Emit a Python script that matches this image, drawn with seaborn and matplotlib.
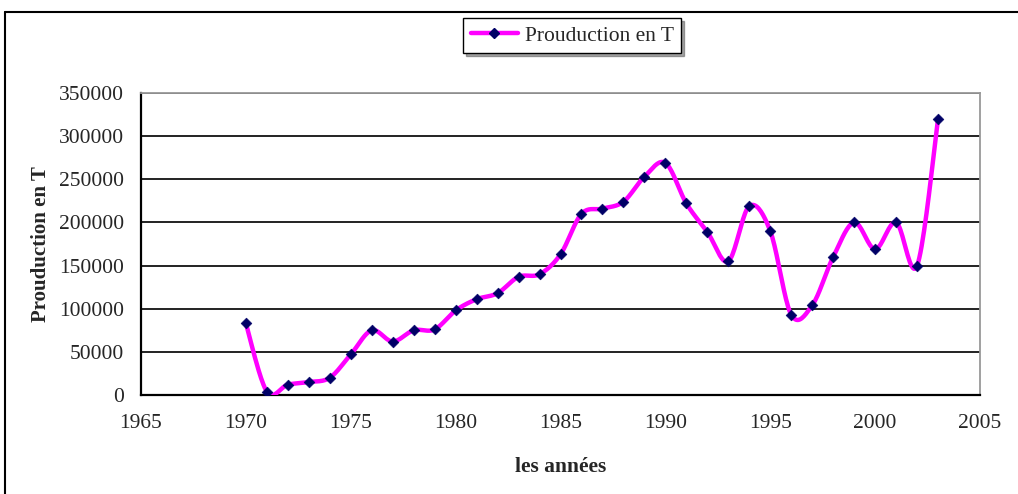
import numpy as np
import pandas as pd
import matplotlib
matplotlib.use("Agg")
import matplotlib.pyplot as plt
from matplotlib.lines import Line2D
import seaborn as sns

years = list(range(1970, 2004))
production = [83000, 4000, 12000, 15000, 20000, 47000, 75000, 62000, 75000, 76000,
              98000, 111000, 118000, 137000, 140000, 163000, 210000, 216000, 224000, 253000,
              269000, 222000, 189000, 155000, 219000, 190000, 93000, 104000, 160000, 200000,
              169000, 200000, 150000, 320000]
y_ticks = [0, 50000, 100000, 150000, 200000, 250000, 300000, 350000]
x_ticks = [1965, 1970, 1975, 1980, 1985, 1990, 1995, 2000, 2005]

df = pd.DataFrame({"annee": years, "production": production})


def smooth(x, y, n=20):
    # Catmull-Rom curve through the points, like the spreadsheet "smoothed line"
    x = np.asarray(x, float)
    y = np.asarray(y, float)
    px = np.concatenate([[x[0]], x, [x[-1]]])
    py = np.concatenate([[y[0]], y, [y[-1]]])
    xs, ys = [], []
    t = np.linspace(0, 1, n, endpoint=False)
    for i in range(1, len(px) - 2):
        for arr, out in ((px, xs), (py, ys)):
            p0, p1, p2, p3 = arr[i - 1], arr[i], arr[i + 1], arr[i + 2]
            c1 = p1 + (p2 - p0) / 6
            c2 = p2 - (p3 - p1) / 6
            out.extend((1 - t) ** 3 * p1 + 3 * (1 - t) ** 2 * t * c1
                       + 3 * (1 - t) * t ** 2 * c2 + t ** 3 * p2)
    xs.append(x[-1])
    ys.append(y[-1])
    return pd.DataFrame({"annee": xs, "production": ys})


curve = smooth(df["annee"], df["production"])

sns.set_style("white")
plt.rcParams["font.family"] = ["Liberation Serif", "DejaVu Serif"]

fig = plt.figure(figsize=(10.18, 4.94), dpi=100)
ax = fig.add_axes([0.1385, 0.2004, 0.8242, 0.6113])

sns.lineplot(data=curve, x="annee", y="production", ax=ax, color="#ff00ff",
             linewidth=3.2, sort=False, estimator=None, zorder=3)
sns.scatterplot(data=df, x="annee", y="production", ax=ax, marker="D", s=30,
                color="#000066", edgecolor="#000066", zorder=4)

ax.set_xlim(1965, 2005)
ax.set_ylim(0, 350000)
ax.set_xticks(x_ticks)
ax.set_yticks(y_ticks)
ax.set_xticklabels([str(v) for v in x_ticks], fontsize=15.5)
ax.set_yticklabels([str(v) for v in y_ticks], fontsize=15.5)
for v in y_ticks[1:]:
    ax.axhline(v, color="#222222", linewidth=1.4, zorder=1)

ax.tick_params(axis="both", direction="out", length=6, width=1.3, color="black", pad=6)
ax.tick_params(axis="x", pad=8)
for side in ("left", "bottom"):
    ax.spines[side].set_color("black")
    ax.spines[side].set_linewidth(1.6)
for side in ("top", "right"):
    ax.spines[side].set_visible(True)
    ax.spines[side].set_color("#999999")
    ax.spines[side].set_linewidth(1.3)

ax.set_xlabel("les années", fontsize=15.5, fontweight="bold", labelpad=17)
ax.set_ylabel("Prouduction en T", fontsize=15, fontweight="bold", labelpad=6)

handle = Line2D([], [], color="#ff00ff", linewidth=3.2, marker="D", markersize=5,
                markerfacecolor="#000066", markeredgecolor="#000066")
leg = fig.legend([handle], ["Prouduction en T"], loc="center", bbox_to_anchor=(0.562, 0.928),
                 fontsize=15.5, frameon=True, fancybox=False, shadow=True,
                 handlelength=2.2, handletextpad=0.3, borderpad=0.35)
leg.get_frame().set_edgecolor("black")
leg.get_frame().set_linewidth(1.0)

# outer chart frame
fig.add_artist(Line2D([0.005, 0.005], [0.0, 0.976], color="black", linewidth=1.5))
fig.add_artist(Line2D([0.005, 1.0], [0.976, 0.976], color="black", linewidth=1.5))

fig.savefig("out.png", dpi=100)
